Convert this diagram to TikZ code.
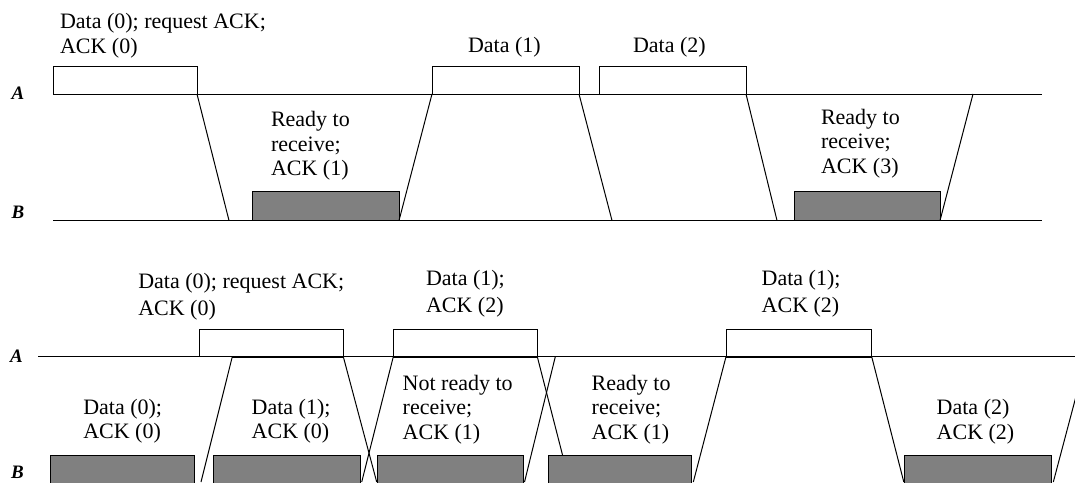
\documentclass[tikz,border=0pt]{standalone}
\usepackage{fontspec}
\setmainfont{Liberation Serif}
\definecolor{boxgray}{RGB}{128,128,128}
\begin{document}
\begin{tikzpicture}[x=1pt,y=-1pt,
  every node/.style={inner sep=0pt, outer sep=0pt},
  ln/.style={line width=1pt, draw=black},
  seg/.style={line width=2.4pt, draw=black},
  wbox/.style={draw=black, line width=1pt, fill=white, anchor=south west},
  gbox/.style={draw=black, line width=1pt, fill=boxgray},
  lbl/.style={anchor=base west, align=left, font=\fontsize{22}{24.5}\selectfont},
  lblw/.style={anchor=base west, align=left, font=\fontsize{22}{27}\selectfont},
  axl/.style={font=\fontsize{19}{19}\selectfont\bfseries\itshape}
]
\useasboundingbox (0,0) rectangle (1075,482);
\clip (0,0) rectangle (1075,482);

% ---------------- top diagram ----------------
\coordinate (tAs) at (53,94);  \coordinate (tAe) at (1042,94);
\coordinate (tBs) at (53,220.5); \coordinate (tBe) at (1042,220.5);
\draw[ln] (tAs) -- (tAe);
\draw[ln] (tBs) -- (tBe);

\node[wbox, minimum width=144pt, minimum height=28pt] (td0) at (53,94) {};
\node[wbox, minimum width=147pt, minimum height=28pt] (td1) at (432,94) {};
\node[wbox, minimum width=147pt, minimum height=28pt] (td2) at (599,94) {};
\node[gbox, anchor=south west, minimum width=147pt, minimum height=29.5pt] (tg1) at (252,220.5) {};
\node[gbox, anchor=south west, minimum width=146pt, minimum height=29.5pt] (tg2) at (794,220.5) {};

\coordinate (tb1) at (229,220.5);
\coordinate (tb2) at (612,220.5);
\coordinate (tb3) at (777,220.5);
\coordinate (ta4) at (973,94);
\draw[ln] (td0.south east) -- (tb1);
\draw[ln] (tg1.south east) -- (td1.south west);
\draw[ln] (td1.south east) -- (tb2);
\draw[ln] (td2.south east) -- (tb3);
\draw[ln] (tg2.south east) -- (ta4);

\node[axl] (tAl) at (18,93) {A};
\node[axl] (tBl) at (18,212) {B};

% multi-line labels: base anchor is the last line's baseline
\node[lbl] (t1) at (60,53.3) {Data (0); request ACK;\\ACK (0)};
\node[lbl] (t2) at (271,175.5) {Ready to\\receive;\\ACK (1)};
\node[lbl] (t3) at (468,52) {Data (1)};
\node[lbl] (t4) at (633,52) {Data (2)};
\node[lbl] (t5) at (821,173.3) {Ready to\\receive;\\ACK (3)};

% ---------------- bottom diagram ----------------
\coordinate (bAs) at (38,356.7); \coordinate (bAe) at (1075,356.7);
\draw[ln] (bAs) -- (bAe);

\coordinate (m1a) at (232.3,356.7);
\coordinate (m5a) at (555.3,356.7);
\coordinate (m8a) at (1086.5,356.7);
\coordinate (m1b) at (201,482);
\coordinate (m2b) at (376.7,482);
\coordinate (m3b) at (361.7,482);
\coordinate (m4b) at (562.7,455.7);
\coordinate (m5b) at (524.5,482);
\coordinate (m6b) at (693.3,482);
\coordinate (m7b) at (903.8,482);
\coordinate (m8b) at (1053.3,482);

\node[wbox, minimum width=144pt, minimum height=27.7pt] (bw0) at (199.3,356.7) {};
\node[wbox, minimum width=144pt, minimum height=27.7pt] (bw1) at (393.3,356.7) {};
\node[wbox, minimum width=145.7pt, minimum height=27.7pt] (bw2) at (726,356.7) {};

\node[gbox, anchor=north west, minimum width=143.6pt, minimum height=40pt] (bg0) at (50.7,455.7) {};
\node[gbox, anchor=north west, minimum width=147.4pt, minimum height=40pt] (bg1) at (213.3,455.7) {};
\node[gbox, anchor=north west, minimum width=146.5pt, minimum height=40pt] (bg2) at (377,455.7) {};
\node[gbox, anchor=north west, minimum width=143.4pt, minimum height=40pt] (bg3) at (548.3,455.7) {};
\node[gbox, anchor=north west, minimum width=146.7pt, minimum height=40pt] (bg4) at (904.3,455.7) {};

\draw[ln] (m1a) -- (m1b);
\draw[ln] (bw0.south east) -- (m2b);
\draw[ln] (bw1.south west) -- (m3b);
\draw[ln] (bw1.south east) -- (m4b);
\draw[ln] (m5a) -- (m5b);
\draw[ln] (bw2.south west) -- (m6b);
\draw[ln] (bw2.south east) -- (m7b);
\draw[ln] (m8a) -- (m8b);

\draw[seg] (m1a) -- (bw0.south east);
\draw[seg] (bw1.south west) -- (bw1.south east);
\draw[seg] (bw2.south west) -- (bw2.south east);

\node[axl] (bAl) at (16.5,356) {A};
\node[axl] (bBl) at (17.5,472) {B};

\node[lblw] (b1) at (138.3,315) {Data (0); request ACK;\\ACK (0)};
\node[lblw] (b2) at (426,312.7) {Data (1);\\ACK (2)};
\node[lblw] (b3) at (761.7,312.7) {Data (1);\\ACK (2)};
\node[lbl] (b4) at (83.3,438.7) {Data (0);\\ACK (0)};
\node[lbl] (b5) at (251.7,438.7) {Data (1);\\ACK (0)};
\node[lbl] (b6) at (402.7,439.3) {Not ready to\\receive;\\ACK (1)};
\node[lbl] (b7) at (591.7,439.3) {Ready to\\receive;\\ACK (1)};
\node[lbl] (b8) at (936.7,439.3) {Data (2)\\ACK (2)};
\end{tikzpicture}
\end{document}
